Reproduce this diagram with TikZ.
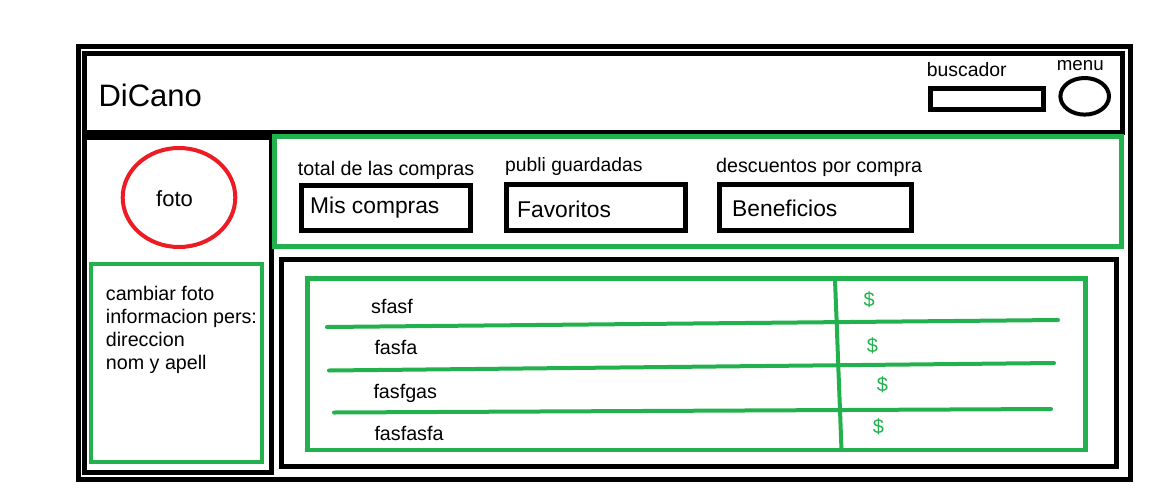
\documentclass[tikz,border=0pt]{standalone}
\usepackage{fontspec}
\setmainfont{Liberation Sans}
\definecolor{pgreen}{HTML}{22B14C}
\definecolor{pred}{HTML}{ED1C24}
\begin{document}
\begin{tikzpicture}[x=1pt,y=-1pt,
  blk/.style={draw=black,line width=5pt},
  grn/.style={draw=pgreen,line width=4.5pt},
  rule/.style={draw=pgreen,line width=4pt,line cap=round},
  lbl/.style={anchor=base west,inner sep=0pt,font=\fontsize{19.7}{23}\selectfont},
  big/.style={anchor=base west,inner sep=0pt,font=\fontsize{22.8}{26}\selectfont},
  money/.style={anchor=base west,inner sep=0pt,text=pgreen,font=\fontsize{20}{24}\selectfont},
]
\useasboundingbox[fill=white] (0,0) rectangle (1160,493);

% frames
\draw[blk] (78,46.5) rectangle (1130,479.5);
\draw[blk] (84.5,53.5) rectangle (1122.5,132);
\draw[blk] (84.5,137.5) rectangle (271.5,472.5);
\draw[grn] (274.5,136.5) rectangle (1121.5,246.5);
\draw[blk] (281.5,259.5) rectangle (1116.5,466);

% header
\node[anchor=base west,inner sep=0pt,font=\fontsize{31}{36}\selectfont] (title) at (98.3,106.7) {DiCano};
\node[lbl,font=\fontsize{19.4}{23}\selectfont] (buscador) at (926.7,76.7) {buscador};
\draw[blk] (930,88.5) rectangle (1043.5,109.5);
\node[lbl,font=\fontsize{18.7}{22}\selectfont] (menu) at (1056.7,70.7) {menu};
\draw[draw=black,line width=4pt] (1084.7,96.3) ellipse [x radius=24.3, y radius=18.3];

% left column
\draw[draw=pred,line width=4pt] (179,197.5) ellipse [x radius=56.3, y radius=49.5];
\node[anchor=base,inner sep=0pt,font=\fontsize{22}{26}\selectfont] (foto) at (174.5,206) {foto};
\draw[draw=pgreen,line width=4pt] (91.3,264) rectangle (262,462);
\node[lbl] (l1) at (105.7,300) {cambiar foto};
\node[lbl] (l2) at (105.7,323.3) {informacion pers:};
\node[lbl] (l3) at (105.7,346) {direccion};
\node[lbl] (l4) at (105.7,369.3) {nom y apell};

% top tabs
\node[lbl] (t1) at (297.7,175) {total de las compras};
\draw[blk] (301.5,185.5) rectangle (470.5,230.5);
\node[big] (b1) at (310,213.3) {Mis compras};
\node[lbl,font=\fontsize{19.3}{23}\selectfont] (t2) at (505,171.7) {publi guardadas};
\draw[blk] (506.5,184.5) rectangle (685.5,230.5);
\node[big] (b2) at (517,217.3) {Favoritos};
\node[lbl] (t3) at (716,172.7) {descuentos por compra};
\draw[blk] (719.5,184.5) rectangle (911.5,230.5);
\node[big] (b3) at (732,216.7) {Beneficios};

% table
\draw[grn] (307.5,278.3) rectangle (1085.5,450);
\draw[draw=pgreen,line width=4pt] (835,280) -- (836.7,323) -- (838.3,366.7) -- (840,410) -- (841.5,450);
\draw[rule] (327,327) -- (1058,320);
\draw[rule] (329,370.5) -- (1054,363);
\draw[rule] (334,412.5) -- (1051,409);
\node[lbl] (r1) at (371,313.3) {sfasf};
\node[lbl] (r2) at (374.3,354.3) {fasfa};
\node[lbl] (r3) at (373.3,398.3) {fasfgas};
\node[lbl] (r4) at (374.3,440) {fasfasfa};
\node[money] (d1) at (863.3,306) {\$};
\node[money] (d2) at (866.7,352.7) {\$};
\node[money] (d3) at (876.7,391.7) {\$};
\node[money] (d4) at (872.7,433.7) {\$};
\end{tikzpicture}
\end{document}
